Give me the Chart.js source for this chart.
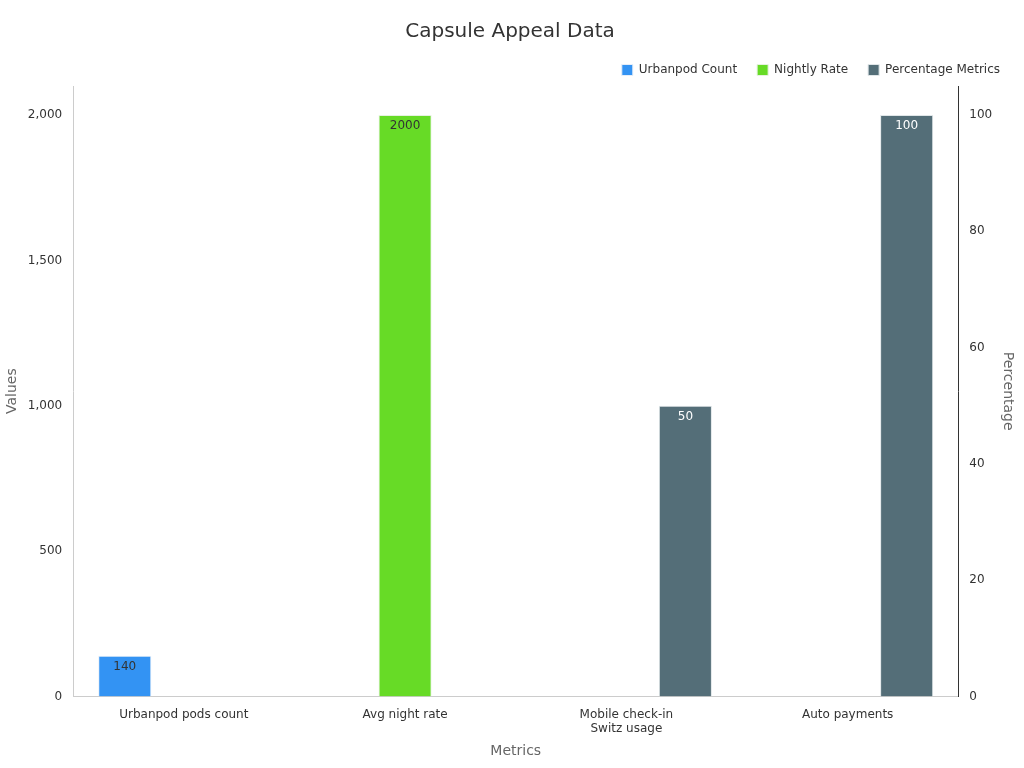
<!DOCTYPE html>
<html><head><meta charset="utf-8">
<script src="https://cdn.jsdelivr.net/npm/chart.js@4/dist/chart.umd.min.js"></script>
<style>html,body{margin:0;padding:0;background:#fff}#w{width:1024px;height:768px}</style>
</head><body><div id="w"><canvas id="c"></canvas></div>
<script>
const categories = ["Urbanpod pods count", "Avg night rate", ["Mobile check-in", "Switz usage"], "Auto payments"];
const urbanpodCount = [140, null, null, null];
const nightlyRate = [null, 2000, null, null];
const percentageMetrics = [null, null, 50, 100];
const leftTicks = [0, 500, 1000, 1500, 2000];
const rightTicks = [0, 20, 40, 60, 80, 100];

Chart.defaults.font.family = "DejaVu Sans";
Chart.defaults.font.size = 12;
const labelPlugin = {
  id: 'lbl',
  afterDatasetsDraw(chart) {
    const ctx = chart.ctx;
    chart.data.datasets.forEach((ds, i) => {
      chart.getDatasetMeta(i).data.forEach((bar, j) => {
        const v = ds.data[j];
        if (v == null) return;
        ctx.save();
        ctx.font = '12px DejaVu Sans';
        ctx.fillStyle = ds.labelColor;
        ctx.textAlign = 'center';
        ctx.textBaseline = 'top';
        ctx.fillText(String(v), bar.x, bar.y + 5);
        ctx.restore();
      });
    });
  }
};
new Chart(document.getElementById('c'), {
  type: 'bar',
  data: {
    labels: categories,
    datasets: [
      {label: 'Urbanpod Count', data: urbanpodCount, backgroundColor: '#3393f3', borderColor: '#e6eef8', borderWidth: 1, yAxisID: 'y', labelColor: '#333'},
      {label: 'Nightly Rate', data: nightlyRate, backgroundColor: '#67db26', borderColor: '#e6f2e0', borderWidth: 1, yAxisID: 'y', labelColor: '#333'},
      {label: 'Percentage Metrics', data: percentageMetrics, backgroundColor: '#546e78', borderColor: '#e0e6e8', borderWidth: 1, yAxisID: 'y1', labelColor: '#fff'}
    ]
  },
  options: {
    responsive: true, maintainAspectRatio: false, animation: false,
    layout: {padding: {left: 0, right: 4, top: 10, bottom: 4}},
    plugins: {
      title: {display: true, text: 'Capsule Appeal Data', color: '#333', font: {size: 20, weight: 'normal'}, padding: {top: 10, bottom: 0}},
      legend: {position: 'top', align: 'end', labels: {boxWidth: 11, boxHeight: 11, color: '#333', font: {size: 12}, padding: 20}},
      tooltip: {enabled: false}
    },
    scales: {
      x: {grid: {display: false, drawTicks: true}, border: {color: '#ccc'}, ticks: {color: '#333'},
          title: {display: true, text: 'Metrics', color: '#666', font: {size: 14}}},
      y: {position: 'left', min: 0, max: 2100, afterBuildTicks: a => { a.ticks = leftTicks.map(v => ({value: v})); },
          grid: {display: false}, border: {color: '#ccc'}, ticks: {color: '#333'},
          title: {display: true, text: 'Values', color: '#666', font: {size: 14}}},
      y1: {position: 'right', min: 0, max: 105, afterBuildTicks: a => { a.ticks = rightTicks.map(v => ({value: v})); },
          grid: {display: false}, border: {color: '#333'}, ticks: {color: '#333'},
          title: {display: true, text: 'Percentage', color: '#666', font: {size: 14}}}
    }
  },
  plugins: [labelPlugin]
});
</script></body></html>
